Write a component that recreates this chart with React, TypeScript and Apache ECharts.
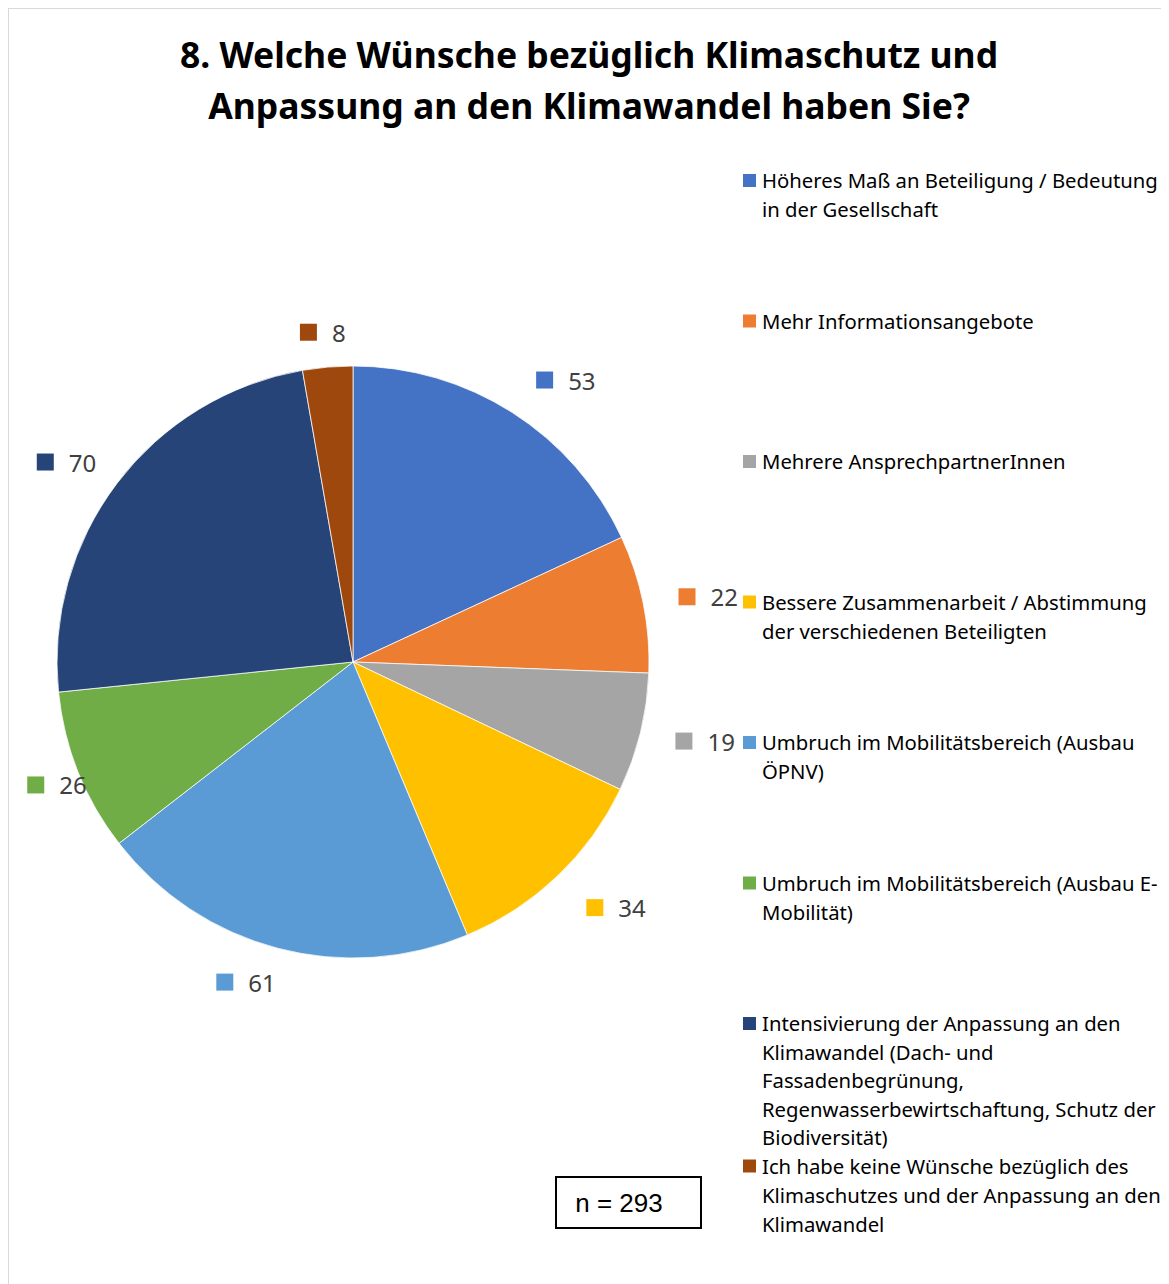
import React, { useEffect, useRef } from "react";
import * as echarts from "echarts";

const TITLE = "8. Welche Wünsche bezüglich Klimaschutz und\nAnpassung an den Klimawandel haben Sie?";
const CATEGORIES = [
  "Höheres Maß an Beteiligung / Bedeutung in der Gesellschaft",
  "Mehr Informationsangebote",
  "Mehrere AnsprechpartnerInnen",
  "Bessere Zusammenarbeit / Abstimmung der verschiedenen Beteiligten",
  "Umbruch im Mobilitätsbereich (Ausbau ÖPNV)",
  "Umbruch im Mobilitätsbereich (Ausbau E-Mobilität)",
  "Intensivierung der Anpassung an den Klimawandel (Dach- und Fassadenbegrünung, Regenwasserbewirtschaftung, Schutz der Biodiversität)",
  "Ich habe keine Wünsche bezüglich des Klimaschutzes und der Anpassung an den Klimawandel",
];
const LEGEND_LINES = [
  ["Höheres Maß an Beteiligung / Bedeutung", "in der Gesellschaft"],
  ["Mehr Informationsangebote"],
  ["Mehrere AnsprechpartnerInnen"],
  ["Bessere Zusammenarbeit / Abstimmung", "der verschiedenen Beteiligten"],
  ["Umbruch im Mobilitätsbereich (Ausbau", "ÖPNV)"],
  ["Umbruch im Mobilitätsbereich (Ausbau E-", "Mobilität)"],
  ["Intensivierung der Anpassung an den", "Klimawandel (Dach- und", "Fassadenbegrünung,", "Regenwasserbewirtschaftung, Schutz der", "Biodiversität)"],
  ["Ich habe keine Wünsche bezüglich des", "Klimaschutzes und der Anpassung an den", "Klimawandel"],
];
const VALUES = [53, 22, 19, 34, 61, 26, 70, 8];
const COLORS = ["#4472C4", "#ED7D31", "#A5A5A5", "#FFC000", "#5B9BD5", "#70AD47", "#264478", "#9E480E"];
const N_TEXT = "n = 293";

export default function App() {
  const ref = useRef<HTMLDivElement>(null);
  useEffect(() => {
    if (!ref.current) return;
    const chart = echarts.init(ref.current, null, { renderer: "svg" });
    const rich: Record<string, any> = {
      gap: { width: 15, height: 17 },
      v: { fontSize: 24, color: "#404040", fontFamily: "Noto Sans" },
    };
    COLORS.forEach((c, i) => {
      rich["sq" + i] = { width: 17, height: 17, backgroundColor: c };
    });
    const labelShift: Record<number, number> = { 4: 12, 5: 46, 6: 12, 7: 26, 1: -4, 2: -4 };
    const legendX = 734;
    const legendTop = 171;
    const legendStep = 140.5;
    const legendGraphics: any[] = [];
    LEGEND_LINES.forEach((lines, i) => {
      const cy = legendTop + i * legendStep + (i === 7 ? 2 : 0);
      const lineH = i === 6 ? 28.5 : 29;
      legendGraphics.push({
        type: "rect",
        shape: { x: legendX, y: cy - 6, width: 13, height: 13 },
        style: { fill: COLORS[i] },
      });
      lines.forEach((line, j) => {
        legendGraphics.push({
          type: "text",
          x: legendX + 19,
          y: cy + j * lineH,
          style: {
            text: line,
            font: "20.3px 'Noto Sans'",
            fill: "#000000",
            verticalAlign: "middle",
            align: "left",
          },
        });
      });
    });
    chart.setOption({
      animation: false,
      backgroundColor: "#ffffff",
      title: {
        text: TITLE,
        left: "center",
        top: 14,
        textStyle: {
          fontFamily: "Noto Sans",
          fontWeight: "bold",
          fontSize: 35.5,
          lineHeight: 51,
          color: "#000000",
        },
      },
      graphic: [
        ...legendGraphics,
        {
          type: "rect",
          shape: { x: 547, y: 1168, width: 145, height: 51 },
          style: { fill: "#ffffff", stroke: "#000000", lineWidth: 2 },
        },
        {
          type: "text",
          x: 610,
          y: 1194,
          style: {
            text: N_TEXT,
            font: "26px 'Liberation Sans'",
            fill: "#000000",
            align: "center",
            verticalAlign: "middle",
          },
        },
      ],
      series: [
        {
          type: "pie",
          center: [344, 653],
          radius: 296,
          startAngle: 90,
          clockwise: true,
          avoidLabelOverlap: false,
          itemStyle: { borderColor: "#ffffff", borderWidth: 0.75 },
          label: {
            show: true,
            position: "outside",
            formatter: (p: any) => `{sq${p.dataIndex}|}{gap|}{v|${p.value}}`,
            rich,
          },
          labelLine: { show: false, length: 35, length2: 0 },
          labelLayout: (params: any) => {
            const dx = labelShift[params.dataIndex];
            const out: any = {};
            if (dx) out.dx = dx;
            if (params.dataIndex === 3) out.dy = 6;
            if (params.dataIndex === 0) out.dy = -3;
            return out;
          },
          emphasis: { disabled: true },
          data: CATEGORIES.map((name, i) => ({
            name,
            value: VALUES[i],
            itemStyle: { color: COLORS[i] },
          })),
        },
      ],
    });
    return () => chart.dispose();
  }, []);
  return (
    <div style={{ width: 1161, height: 1276, borderTop: "1px solid #d9d9d9", borderLeft: "1px solid #d9d9d9", boxSizing: "border-box" }}>
      <div ref={ref} style={{ width: 1160, height: 1275 }} />
    </div>
  );
}
